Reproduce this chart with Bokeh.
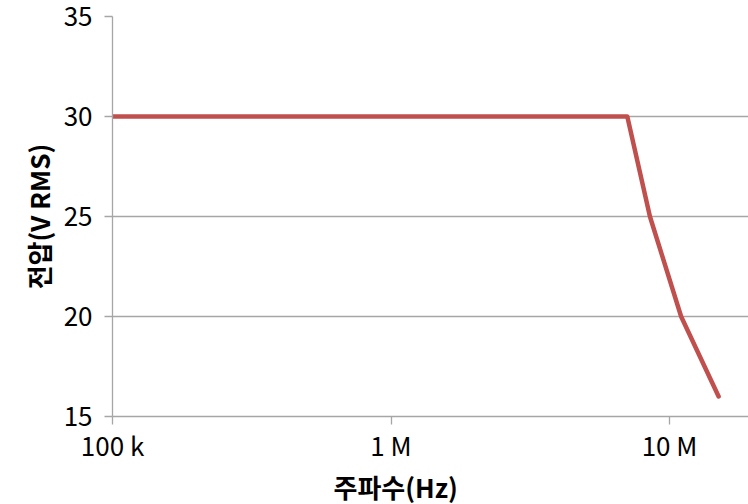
from bokeh.plotting import figure
from bokeh.models import Range1d, FixedTicker, Title, ColumnDataSource
from bokeh.embed import file_html
from bokeh.resources import INLINE

# Data
freq_hz = [1e5, 7.05e6, 8.5e6, 1.1e7, 1.5e7]
voltage_vrms = [30, 30, 25, 20, 16]

x_tick_values = [1e5, 1e6, 1e7]
x_tick_labels = ["100 k", "1 M", "10 M"]
y_tick_values = [15, 20, 25, 30, 35]

x_title = "주파수(Hz)"
y_title = "전압(V RMS)"

FONT = "Noto Sans CJK KR"
GRID = "#a6a6a6"

p = figure(width=748, height=504, x_axis_type="log",
           x_range=Range1d(1e5, 1.92e7), y_range=Range1d(15, 35),
           output_backend="svg", toolbar_location=None,
           min_border_left=112, min_border_right=0, min_border_top=16,
           min_border_bottom=88)
p.outline_line_color = None
p.background_fill_color = "white"

src = ColumnDataSource(dict(x=freq_hz, y=voltage_vrms))
p.line("x", "y", source=src, line_color="#c0504d", line_width=4.5,
       line_join="round", line_cap="round")

p.xaxis.ticker = FixedTicker(ticks=x_tick_values, minor_ticks=[])
p.xaxis.major_label_overrides = {float(v): l for v, l in zip(x_tick_values, x_tick_labels)}
p.yaxis.ticker = FixedTicker(ticks=y_tick_values, minor_ticks=[])

for ax in (p.xaxis[0], p.yaxis[0]):
    ax.axis_line_color = GRID
    ax.axis_line_width = 1.3
    ax.major_tick_line_color = GRID
    ax.major_tick_line_width = 1.3
    ax.major_tick_out = 8
    ax.major_tick_in = 0
    ax.minor_tick_line_color = None
    ax.major_label_text_font = FONT
    ax.major_label_text_font_size = "26px"
    ax.major_label_text_color = "#000000"

p.yaxis.major_label_standoff = 12
p.xaxis.major_label_standoff = 1

p.yaxis.axis_label = y_title
p.yaxis.axis_label_text_font = FONT
p.yaxis.axis_label_text_font_style = "bold"
p.yaxis.axis_label_text_font_size = "26px"
p.yaxis.axis_label_text_color = "#000000"
p.yaxis.axis_label_standoff = 4

p.xgrid.grid_line_color = None
p.ygrid.grid_line_color = GRID
p.ygrid.grid_line_width = 1.3

p.add_layout(Title(text=x_title, align="left", offset=221,
                   text_font=FONT, text_font_style="bold",
                   text_font_size="26px", text_color="#000000",
                   standoff=0), "below")

open("out.html", "w").write(file_html(p, INLINE))
